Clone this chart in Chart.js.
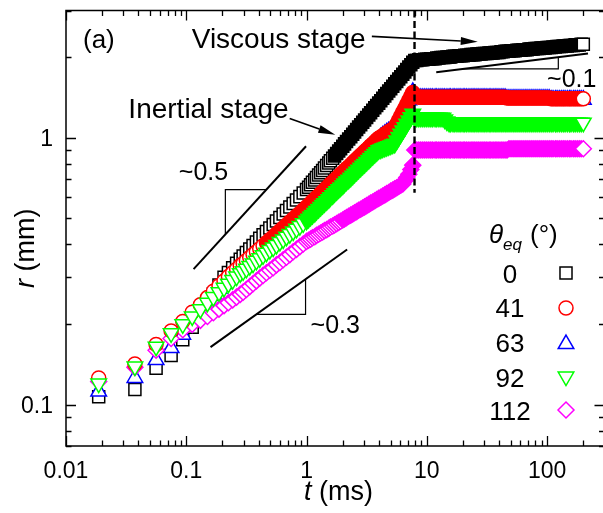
<!DOCTYPE html>
<html>
<head>
<meta charset="utf-8">
<script src="https://cdn.jsdelivr.net/npm/chart.js@4.4.1/dist/chart.umd.min.js"></script>
<style>
  html, body { margin: 0; padding: 0; background: #fff; overflow: hidden; }
  canvas { display: block; }
</style>
</head>
<body>
<canvas id="spread" width="615" height="513"></canvas>
<script>
// Contact radius r (mm) versus time t (ms), shared sampling times for all contact angles
const tMs = [
  0.0187,0.0374,0.0561,0.0748,0.0935,0.112,0.131,0.150,0.168,0.187,0.206,0.224,0.243,0.262,0.281,
  0.297,0.316,0.337,0.359,0.383,0.408,0.435,0.464,0.495,0.528,0.562,0.600,0.639,0.681,0.726,0.774,0.825,0.880,0.938,
  1.00,1.04,1.08,1.12,1.17,1.21,1.26,1.31,1.36,1.41,1.47,1.53,1.58,1.65,1.71,1.78,1.85,1.92,2.00,2.07,
  2.15,2.24,2.33,2.42,2.51,2.61,2.71,2.82,2.93,3.04,3.16,3.29,3.41,3.55,3.69,3.83,3.98,4.14,4.30,4.47,
  4.64,4.82,5.01,5.21,5.41,5.62,5.84,6.07,6.31,6.56,6.81,7.08,7.36,7.64,7.94,8.25,8.58,8.91,9.26,9.62,
  10.0,10.4,10.8,11.2,11.7,12.1,12.6,13.1,13.6,14.1,14.7,15.3,15.8,16.5,17.1,17.8,18.5,19.2,20.0,20.7,
  21.5,22.4,23.3,24.2,25.1,26.1,27.1,28.2,29.3,30.4,31.6,32.9,34.1,35.5,36.9,38.3,39.8,41.4,43.0,44.7,
  46.4,48.2,50.1,52.1,54.1,56.2,58.4,60.7,63.1,65.6,68.1,70.8,73.6,76.4,79.4,82.5,85.8,89.1,92.6,96.2,
  100,104,108,112,117,121,126,131,136,141,147,153,158,165,171,178,185,192,200
];

// theta_eq = 0 deg
const r0 = [
  0.107,0.114,0.137,0.153,0.175,0.195,0.218,0.240,0.260,0.281,0.300,0.313,0.326,0.339,0.351,
  0.361,0.372,0.383,0.395,0.407,0.420,0.433,0.446,0.459,0.473,0.488,0.503,0.518,0.534,0.550,0.567,0.585,0.602,0.621,
  0.640,0.653,0.667,0.681,0.695,0.710,0.725,0.740,0.755,0.771,0.787,0.804,0.821,0.838,0.855,0.873,0.892,0.910,0.929,0.949,
  0.969,0.989,1.010,1.031,1.052,1.074,1.097,1.120,1.143,1.167,1.192,1.217,1.242,1.268,1.295,1.322,1.349,1.378,1.406,1.436,
  1.466,1.497,1.528,1.560,1.593,1.626,1.660,1.695,1.730,1.766,1.803,1.841,1.880,1.919,1.95,1.95,1.96,1.96,1.96,1.97,
  1.97,1.97,1.98,1.98,1.98,1.99,1.99,2.00,2.00,2.00,2.01,2.01,2.01,2.02,2.02,2.02,2.03,2.03,2.03,2.04,
  2.04,2.04,2.05,2.05,2.05,2.06,2.06,2.06,2.07,2.07,2.07,2.08,2.08,2.08,2.09,2.09,2.09,2.10,2.10,2.11,
  2.11,2.11,2.12,2.12,2.12,2.13,2.13,2.13,2.14,2.14,2.14,2.15,2.15,2.15,2.16,2.16,2.16,2.17,2.17,2.17,
  2.18,2.18,2.18,2.19,2.19,2.20,2.20,2.20,2.21,2.21,2.21,2.22,2.22,2.22,2.23,2.23,2.23,2.24,2.24
];

// theta_eq = 41 deg
const r41 = [
  0.126,0.142,0.168,0.189,0.205,0.222,0.237,0.252,0.266,0.279,0.291,0.302,0.312,0.322,0.332,
  0.338,0.347,0.356,0.365,0.374,0.384,0.394,0.404,0.415,0.425,0.436,0.448,0.459,0.471,0.484,0.496,0.509,0.522,0.536,
  0.550,0.559,0.568,0.578,0.587,0.597,0.607,0.617,0.628,0.638,0.649,0.660,0.671,0.682,0.693,0.705,0.717,0.729,0.741,0.753,
  0.766,0.778,0.791,0.805,0.818,0.832,0.846,0.860,0.874,0.889,0.903,0.918,0.934,0.949,0.965,0.981,0.997,1.008,1.019,1.031,
  1.042,1.054,1.066,1.078,1.090,1.128,1.167,1.207,1.249,1.292,1.337,1.383,1.431,1.480,1.44,1.43,1.42,1.42,1.42,1.42,
  1.42,1.42,1.42,1.42,1.42,1.42,1.42,1.42,1.42,1.42,1.42,1.42,1.42,1.42,1.42,1.42,1.42,1.42,1.42,1.42,
  1.42,1.42,1.42,1.42,1.42,1.42,1.42,1.42,1.42,1.42,1.42,1.42,1.42,1.42,1.42,1.42,1.42,1.42,1.42,1.42,
  1.41,1.41,1.41,1.41,1.41,1.41,1.41,1.41,1.41,1.41,1.41,1.41,1.41,1.41,1.41,1.41,1.41,1.41,1.41,1.41,
  1.41,1.41,1.40,1.40,1.40,1.40,1.40,1.40,1.40,1.40,1.40,1.40,1.40,1.40,1.40,1.40,1.40,1.40,1.40
];

// theta_eq = 63 deg
const r63 = [
  0.112,0.126,0.147,0.163,0.183,0.214,0.230,0.245,0.259,0.272,0.283,0.293,0.303,0.312,0.321,
  0.330,0.338,0.347,0.356,0.365,0.374,0.384,0.394,0.404,0.414,0.425,0.436,0.447,0.459,0.471,0.483,0.496,0.509,0.522,
  0.539,0.548,0.557,0.566,0.575,0.585,0.595,0.605,0.615,0.625,0.636,0.647,0.658,0.668,0.679,0.691,0.703,0.714,0.726,0.738,
  0.751,0.762,0.775,0.789,0.802,0.815,0.829,0.843,0.857,0.871,0.885,0.900,0.915,0.930,0.946,0.961,0.977,1.005,1.020,1.034,
  1.047,1.058,1.068,1.079,1.090,1.125,1.163,1.203,1.246,1.290,1.335,1.382,1.432,1.485,1.44,1.43,1.41,1.41,1.41,1.41,
  1.41,1.41,1.41,1.41,1.41,1.41,1.41,1.41,1.41,1.41,1.41,1.41,1.41,1.41,1.41,1.41,1.41,1.41,1.41,1.41,
  1.41,1.41,1.41,1.41,1.41,1.41,1.41,1.41,1.41,1.41,1.41,1.41,1.41,1.41,1.41,1.41,1.41,1.41,1.41,1.41,
  1.40,1.40,1.40,1.40,1.40,1.40,1.40,1.40,1.40,1.40,1.40,1.40,1.40,1.40,1.40,1.40,1.40,1.40,1.40,1.40,
  1.40,1.40,1.39,1.39,1.39,1.39,1.39,1.39,1.39,1.39,1.39,1.39,1.39,1.39,1.39,1.39,1.39,1.39,1.39
];

// theta_eq = 92 deg
const r92 = [
  0.120,0.139,0.165,0.185,0.200,0.214,0.228,0.241,0.253,0.264,0.274,0.284,0.293,0.302,0.311,
  0.316,0.323,0.331,0.338,0.346,0.354,0.363,0.371,0.380,0.388,0.397,0.407,0.416,0.426,0.436,0.446,0.456,0.467,0.478,
  0.489,0.497,0.506,0.514,0.523,0.532,0.541,0.550,0.560,0.569,0.579,0.589,0.599,0.609,0.620,0.630,0.641,0.652,0.663,0.674,
  0.686,0.697,0.709,0.721,0.734,0.746,0.759,0.772,0.785,0.798,0.812,0.826,0.840,0.854,0.869,0.883,0.898,0.905,0.911,0.917,
  0.923,0.929,0.936,0.943,0.950,0.978,1.006,1.035,1.065,1.096,1.128,1.161,1.195,1.230,1.19,1.19,1.19,1.19,1.19,1.19,
  1.19,1.19,1.19,1.19,1.19,1.19,1.19,1.19,1.19,1.17,1.15,1.14,1.14,1.14,1.14,1.14,1.14,1.14,1.14,1.14,
  1.14,1.14,1.14,1.14,1.14,1.14,1.14,1.14,1.14,1.14,1.14,1.14,1.14,1.14,1.14,1.14,1.14,1.14,1.14,1.14,
  1.14,1.14,1.14,1.14,1.14,1.14,1.14,1.14,1.14,1.14,1.14,1.14,1.14,1.14,1.14,1.14,1.14,1.14,1.14,1.14,
  1.14,1.14,1.14,1.14,1.14,1.14,1.14,1.14,1.14,1.14,1.14,1.14,1.14,1.14,1.14,1.14,1.14,1.14,1.14
];

// theta_eq = 112 deg
const r112 = [
  0.122,0.138,0.160,0.177,0.191,0.200,0.207,0.214,0.221,0.228,0.235,0.241,0.247,0.253,0.259,
  0.264,0.270,0.277,0.284,0.291,0.298,0.305,0.312,0.319,0.326,0.334,0.341,0.349,0.357,0.365,0.374,0.382,0.391,0.400,
  0.409,0.413,0.417,0.422,0.426,0.431,0.435,0.440,0.444,0.449,0.453,0.458,0.463,0.467,0.472,0.477,0.482,0.487,0.492,0.497,
  0.502,0.508,0.513,0.518,0.524,0.529,0.535,0.540,0.546,0.551,0.557,0.563,0.569,0.575,0.581,0.587,0.593,0.599,0.605,0.611,
  0.618,0.624,0.631,0.637,0.644,0.650,0.657,0.664,0.671,0.69,0.71,0.73,0.76,0.79,0.90,0.90,0.90,0.90,0.90,0.90,
  0.90,0.90,0.90,0.90,0.90,0.90,0.90,0.90,0.90,0.90,0.90,0.90,0.90,0.90,0.90,0.90,0.90,0.90,0.90,0.90,
  0.90,0.90,0.90,0.90,0.90,0.90,0.90,0.90,0.90,0.90,0.90,0.90,0.90,0.90,0.90,0.90,0.90,0.90,0.90,0.90,
  0.90,0.91,0.91,0.91,0.91,0.91,0.91,0.91,0.91,0.91,0.91,0.91,0.91,0.91,0.91,0.91,0.91,0.91,0.91,0.91,
  0.91,0.91,0.91,0.91,0.91,0.91,0.91,0.91,0.91,0.91,0.91,0.91,0.91,0.91,0.91,0.91,0.91,0.91,0.91
];

const angleLabels = ['0', '41', '63', '92', '112'];
const xTickValues = [0.01, 0.1, 1, 10, 100];
const xTickLabels = ['0.01', '0.1', '1', '10', '100'];
const yTickValues = [0.1, 1];
const yTickLabels = ['0.1', '1'];

const FONT = '"Liberation Sans", Arial, Helvetica, sans-serif';

// marker look of each series; where the samples crowd together (t >= solidFrom)
// the overlapping open symbols merge into a solid band, so those are painted solid
const seriesLook = [
  { r: r0,   color: '#000000', style: 'rect',     radius: 8.5, rotation: 0,   order: 4, solidFrom: 1.7 },
  { r: r41,  color: '#ff0000', style: 'circle',   radius: 7,   rotation: 0,   order: 1, solidFrom: 0.45 },
  { r: r63,  color: '#0000ff', style: 'triangle', radius: 9,   rotation: 0,   order: 3, solidFrom: 0.45 },
  { r: r92,  color: '#00ff00', style: 'triangle', radius: 9,   rotation: 180, order: 0, solidFrom: 1.0 },
  { r: r112, color: '#ff00ff', style: 'rectRot',  radius: 8,   rotation: 0,   order: 2, solidFrom: 2.0 }
];

const lastIndex = tMs.length - 1;
const datasets = seriesLook.map((s, i) => ({
  label: angleLabels[i],
  data: tMs.map((t, j) => ({ x: t, y: s.r[j] })),
  showLine: false,
  order: s.order,
  pointStyle: s.style,
  pointRotation: s.rotation,
  pointRadius: s.radius,
  pointHoverRadius: s.radius,
  pointBorderWidth: 1.5,
  pointBorderColor: s.color,
  pointBackgroundColor: (c) => (c.type === 'data' && c.dataIndex < lastIndex && tMs[c.dataIndex] >= s.solidFrom) ? s.color : '#ffffff',
  borderColor: s.color,
  backgroundColor: '#ffffff'
}));

// guide lines with slope triangles, given in (t, r)
const slopeGuides = [
  { from: [0.115, 0.322], to: [0.99, 0.93],    corner: [0.2113, 0.639], text: '~0.5', at: [0.0867, 0.696] },
  { from: [0.159, 0.1643], to: [2.175, 0.3814], corner: [0.981, 0.218],  text: '~0.3', at: [1.079, 0.1853] },
  { from: [11.97, 1.762], to: [218.8, 2.072],   corner: [123.9, 1.813],  text: '~0.1', at: [100, 1.554] }
];
const stageArrows = [
  { text: 'Viscous stage',  at: [0.111, 2.168], from: [3.49, 2.40],  to: [26.5, 2.29] },
  { text: 'Inertial stage', at: [0.033, 1.182], from: [0.724, 1.182], to: [1.733, 1.027] }
];
const crossoverT = 7.9;
const crossoverLowR = 0.623;

function drawMarker(ctx, look, x, y) {
  const opts = { pointStyle: look.style, rotation: look.rotation, radius: look.radius, borderWidth: 1.5 };
  ctx.fillStyle = '#ffffff';
  ctx.strokeStyle = look.color;
  ctx.lineWidth = 1.5;
  Chart.helpers.drawPoint(ctx, opts, x, y);
}

const decor = {
  id: 'decor',
  beforeDraw(chart) {
    const { ctx, width, height } = chart;
    ctx.save();
    ctx.fillStyle = '#ffffff';
    ctx.fillRect(0, 0, width, height);
    ctx.restore();
  },
  afterDatasetsDraw(chart) {
    const { ctx, chartArea: a, scales } = chart;
    const xs = scales.x, ys = scales.y;
    const P = (t, r) => [xs.getPixelForValue(t), ys.getPixelForValue(r)];
    ctx.save();
    ctx.strokeStyle = '#000';
    ctx.fillStyle = '#000';
    ctx.lineCap = 'butt';

    // dashed line at the inertial / viscous crossover
    const [dx, dy] = P(crossoverT, crossoverLowR);
    ctx.lineWidth = 2.4;
    ctx.setLineDash([7, 3.5]);
    ctx.beginPath(); ctx.moveTo(dx, a.top); ctx.lineTo(dx, dy); ctx.stroke();
    ctx.setLineDash([]);

    // power-law guides and their slope triangles
    for (const g of slopeGuides) {
      const [x1, y1] = P(...g.from), [x2, y2] = P(...g.to), [cx, cy] = P(...g.corner);
      ctx.lineWidth = 2;
      ctx.beginPath(); ctx.moveTo(x1, y1); ctx.lineTo(x2, y2); ctx.stroke();
      const k = (y2 - y1) / (x2 - x1);
      const hx = x1 + (cy - y1) / k;
      const vy = y1 + (cx - x1) * k;
      ctx.lineWidth = 1.2;
      ctx.beginPath(); ctx.moveTo(hx, cy); ctx.lineTo(cx, cy); ctx.lineTo(cx, vy); ctx.stroke();
      const [tx, ty] = P(...g.at);
      ctx.font = '25px ' + FONT;
      ctx.textAlign = 'left'; ctx.textBaseline = 'alphabetic';
      ctx.fillText(g.text, tx, ty);
    }

    // stage labels with arrows
    for (const s of stageArrows) {
      const [tx, ty] = P(...s.at);
      ctx.font = '28px ' + FONT;
      ctx.textAlign = 'left'; ctx.textBaseline = 'alphabetic';
      ctx.fillText(s.text, tx, ty);
      const [x1, y1] = P(...s.from), [x2, y2] = P(...s.to);
      const ang = Math.atan2(y2 - y1, x2 - x1);
      const len = 17, hw = 4;
      const bx = x2 - len * Math.cos(ang), by = y2 - len * Math.sin(ang);
      ctx.lineWidth = 1.6;
      ctx.beginPath(); ctx.moveTo(x1, y1); ctx.lineTo(bx, by); ctx.stroke();
      ctx.beginPath();
      ctx.moveTo(x2, y2);
      ctx.lineTo(bx + hw * Math.sin(ang), by - hw * Math.cos(ang));
      ctx.lineTo(bx - hw * Math.sin(ang), by + hw * Math.cos(ang));
      ctx.closePath(); ctx.fill();
    }
    ctx.restore();
  },
  afterDraw(chart) {
    const { ctx, chartArea: a, scales } = chart;
    const xs = scales.x, ys = scales.y;
    ctx.save();
    ctx.strokeStyle = '#000';
    ctx.fillStyle = '#000';

    // frame
    ctx.lineWidth = 1.5;
    ctx.strokeRect(a.left, a.top, a.right - a.left, a.bottom - a.top);

    const major = 10, minor = 5.5;
    ctx.lineWidth = 1.3;
    ctx.beginPath();
    // x ticks, bottom and top, pointing inward
    for (let d = xs.min; d < xs.max * 1.0001; d *= 10) {
      for (let m = 1; m <= 9; m++) {
        const v = m * d;
        if (v < xs.min * 0.9999 || v > xs.max * 1.0001) continue;
        const px = Math.round(xs.getPixelForValue(v)) + 0.5;
        const L = m === 1 ? major : minor;
        ctx.moveTo(px, a.bottom); ctx.lineTo(px, a.bottom - L);
        ctx.moveTo(px, a.top); ctx.lineTo(px, a.top + L);
      }
    }
    // y ticks, left and right, pointing inward
    for (let d = 0.01; d < ys.max * 1.0001; d *= 10) {
      for (let m = 1; m <= 9; m++) {
        const v = m * d;
        if (v < ys.min * 0.9999 || v > ys.max * 1.0001) continue;
        const py = Math.round(ys.getPixelForValue(v)) + 0.5;
        const L = m === 1 ? major : minor;
        ctx.moveTo(a.left, py); ctx.lineTo(a.left + L, py);
        ctx.moveTo(a.right, py); ctx.lineTo(a.right - L, py);
      }
    }
    ctx.stroke();

    // tick labels
    ctx.font = '23px ' + FONT;
    ctx.textBaseline = 'alphabetic';
    ctx.textAlign = 'center';
    xTickValues.forEach((v, i) => ctx.fillText(xTickLabels[i], xs.getPixelForValue(v), a.bottom + 32));
    ctx.textAlign = 'right';
    yTickValues.forEach((v, i) => ctx.fillText(yTickLabels[i], a.left - 13, ys.getPixelForValue(v) + 8));

    // axis titles
    ctx.textAlign = 'left';
    ctx.font = 'italic 27px ' + FONT;
    const tx = 304, tyb = 500;
    ctx.fillText('t', tx, tyb);
    const tw = ctx.measureText('t').width;
    ctx.font = '27px ' + FONT;
    ctx.fillText(' (ms)', tx + tw, tyb);

    ctx.save();
    ctx.translate(34, 288);
    ctx.rotate(-Math.PI / 2);
    ctx.font = 'italic 27px ' + FONT;
    ctx.fillText('r', 0, 0);
    const rw = ctx.measureText('r').width;
    ctx.font = '27px ' + FONT;
    ctx.fillText(' (mm)', rw, 0);
    ctx.restore();

    // panel tag
    ctx.font = '26px ' + FONT;
    ctx.fillText('(a)', 83, 48);

    // legend: contact angle list
    ctx.font = 'italic 26px ' + FONT;
    ctx.fillText('\u03b8', 489, 243);
    ctx.font = 'italic 17px ' + FONT;
    ctx.fillText('eq', 503, 250);
    ctx.font = '26px ' + FONT;
    ctx.fillText('(\u00b0)', 530, 243);

    const rowBase = [283, 317, 352, 387, 420];
    const markY = [273, 308, 344, 376.5, 410];
    ctx.textAlign = 'center';
    angleLabels.forEach((lab, i) => {
      ctx.fillStyle = '#000';
      ctx.font = '26px ' + FONT;
      ctx.fillText(lab, 510, rowBase[i]);
      drawMarker(ctx, seriesLook[i], 566, markY[i]);
    });
    ctx.restore();
  }
};

new Chart(document.getElementById('spread'), {
  type: 'scatter',
  data: { datasets },
  options: {
    responsive: false,
    animation: false,
    devicePixelRatio: 1,
    events: [],
    layout: { padding: { left: 66, top: 6, right: 5, bottom: 67 } },
    plugins: { legend: { display: false }, tooltip: { enabled: false } },
    scales: {
      x: { type: 'logarithmic', min: 0.01, max: 300, display: false },
      y: { type: 'logarithmic', min: 0.07, max: 3, display: false }
    }
  },
  plugins: [decor]
});
</script>
</body>
</html>
